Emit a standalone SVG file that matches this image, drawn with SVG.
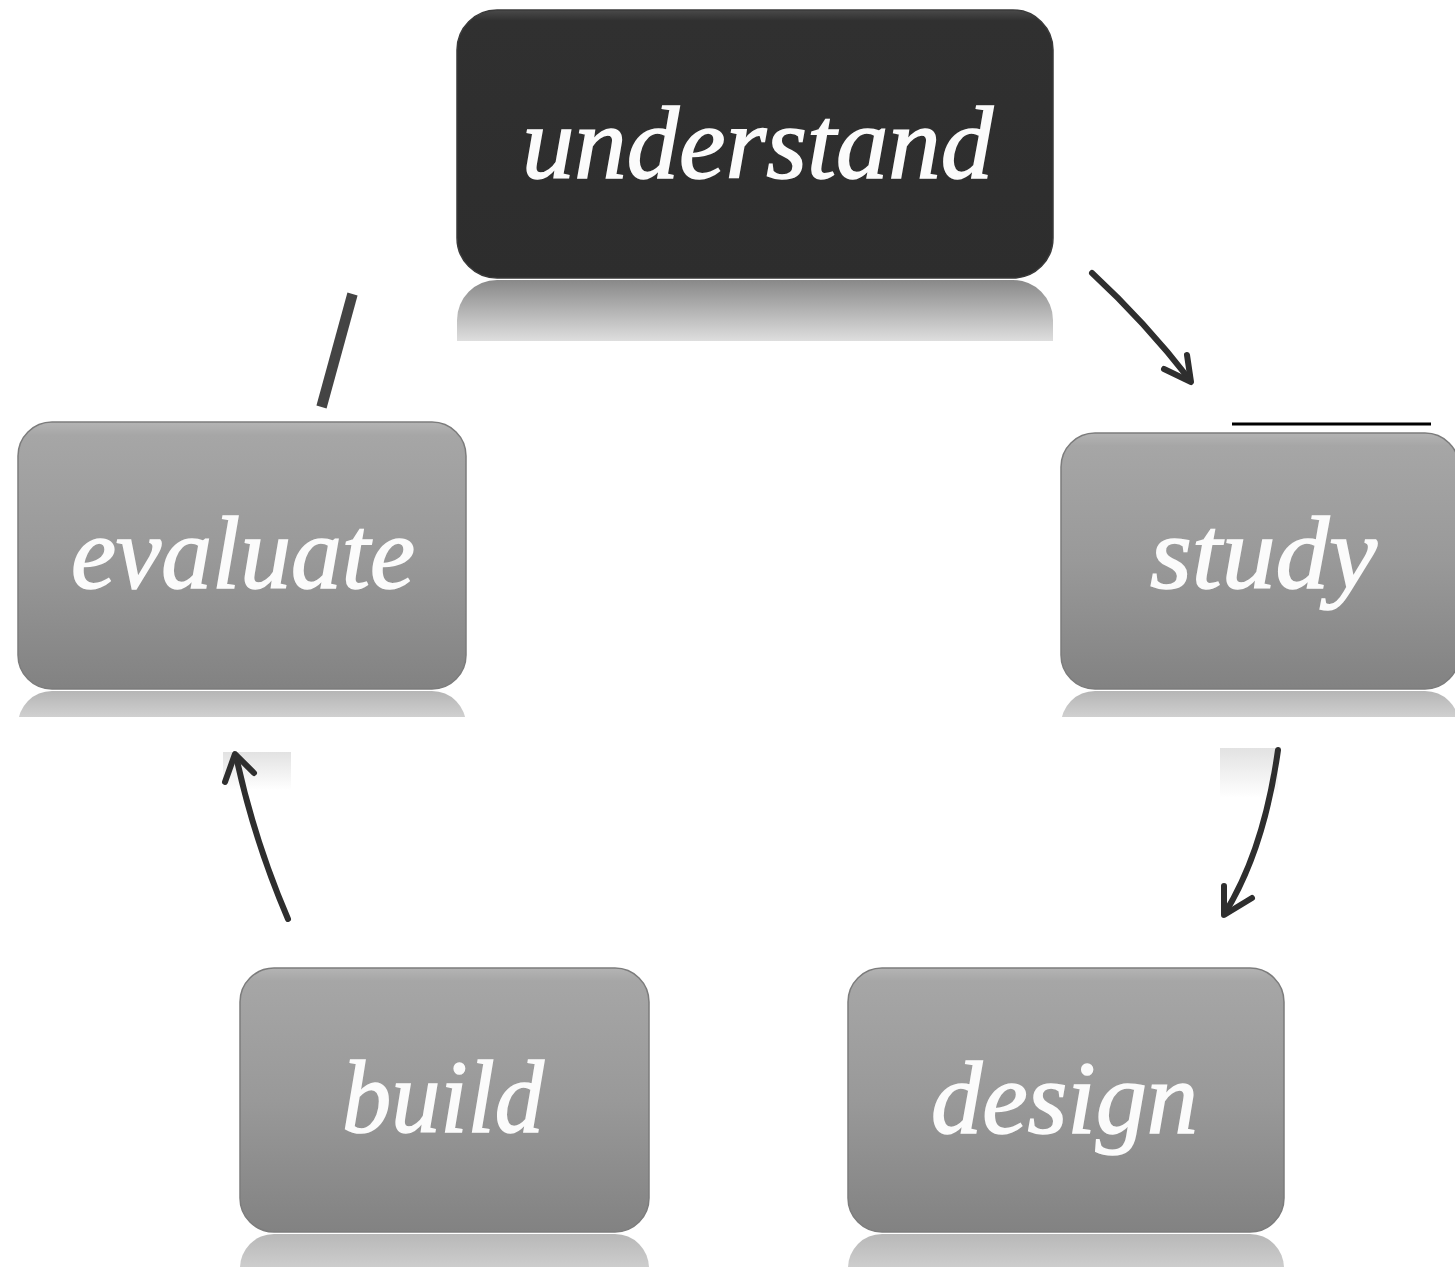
<svg xmlns="http://www.w3.org/2000/svg" width="1455" height="1267" viewBox="0 0 1455 1267">
<style>
.lbl{font-family:"Liberation Serif","DejaVu Serif",serif;font-style:italic;font-size:104px;fill:#fbfbfb;stroke:#fbfbfb;stroke-width:1.6;}
.conn{fill:none;stroke:#2e2e2e;stroke-width:6;stroke-linecap:round;stroke-linejoin:round;}
.gbox{fill:url(#gGray);stroke:#7c7c7c;stroke-width:1.5;}
</style>
<defs>
<linearGradient id="gGray" x1="0" y1="0" x2="0" y2="1">
<stop offset="0" stop-color="#b4b4b4"/>
<stop offset="0.05" stop-color="#a6a6a6"/>
<stop offset="0.5" stop-color="#999"/>
<stop offset="1" stop-color="#828282"/>
</linearGradient>
<linearGradient id="gDark" x1="0" y1="0" x2="0" y2="1">
<stop offset="0" stop-color="#4a4a4a"/>
<stop offset="0.04" stop-color="#303030"/>
<stop offset="1" stop-color="#2d2d2d"/>
</linearGradient>
<linearGradient id="rTop" gradientUnits="userSpaceOnUse" x1="0" y1="279" x2="0" y2="341">
<stop offset="0" stop-color="#878787"/>
<stop offset="1" stop-color="#dedede"/>
</linearGradient>
<linearGradient id="rMid" gradientUnits="userSpaceOnUse" x1="0" y1="690" x2="0" y2="717">
<stop offset="0" stop-color="#b4b4b4"/>
<stop offset="1" stop-color="#d0d0d0"/>
</linearGradient>
<linearGradient id="rBot" gradientUnits="userSpaceOnUse" x1="0" y1="1233" x2="0" y2="1267">
<stop offset="0" stop-color="#b7b7b7"/>
<stop offset="1" stop-color="#cdcdcd"/>
</linearGradient>
<linearGradient id="patch" x1="0" y1="0" x2="0" y2="1">
<stop offset="0" stop-color="#e2e2e2"/>
<stop offset="1" stop-color="#ffffff"/>
</linearGradient>
<clipPath id="cTop"><rect x="440" y="280" width="640" height="61"/></clipPath>
<clipPath id="cMid"><rect x="0" y="691" width="1455" height="26"/></clipPath>
<clipPath id="cBot"><rect x="0" y="1234" width="1455" height="33"/></clipPath>
</defs>
<rect width="1455" height="1267" fill="#fff"/>

<g id="patches">
<rect x="1220" y="748" width="58" height="50" fill="url(#patch)"/>
<rect x="223" y="752" width="68" height="38" fill="url(#patch)"/>
</g>

<g id="understand">
<rect x="457" y="10" width="596" height="268" rx="40" fill="url(#gDark)" stroke="#3a3a3a" stroke-width="1.5"/>
<rect x="457" y="280" width="596" height="268" rx="40" fill="url(#rTop)" clip-path="url(#cTop)"/>
<text class="lbl" x="522" y="178" textLength="471" lengthAdjust="spacingAndGlyphs">understand</text>
</g>

<g id="evaluate">
<rect class="gbox" x="18" y="422" width="448" height="267" rx="34"/>
<rect x="18" y="691" width="448" height="267" rx="34" fill="url(#rMid)" clip-path="url(#cMid)"/>
<text class="lbl" x="71" y="588" textLength="344" lengthAdjust="spacingAndGlyphs">evaluate</text>
</g>

<g id="study">
<rect class="gbox" x="1061" y="433" width="398" height="256" rx="34"/>
<rect x="1061" y="691" width="398" height="256" rx="34" fill="url(#rMid)" clip-path="url(#cMid)"/>
<text class="lbl" x="1150" y="588" textLength="227" lengthAdjust="spacingAndGlyphs">study</text>
</g>

<g id="build">
<rect class="gbox" x="240" y="968" width="409" height="264" rx="34"/>
<rect x="240" y="1234" width="409" height="264" rx="34" fill="url(#rBot)" clip-path="url(#cBot)"/>
<text class="lbl" x="342" y="1132" textLength="202" lengthAdjust="spacingAndGlyphs">build</text>
</g>

<g id="design">
<rect class="gbox" x="848" y="968" width="436" height="264" rx="34"/>
<rect x="848" y="1234" width="436" height="264" rx="34" fill="url(#rBot)" clip-path="url(#cBot)"/>
<text class="lbl" x="931" y="1133" textLength="267" lengthAdjust="spacingAndGlyphs">design</text>
</g>

<g id="connectors">
<path class="conn" d="M1092,273 Q1145,322 1190,380"/>
<path class="conn" d="M1164,369 L1191,382 L1187,355"/>
<path class="conn" d="M1278,750 Q1264,850 1225,913"/>
<path class="conn" d="M1224,886 L1224,915 L1252,898"/>
<path class="conn" d="M288,919 Q254,840 236,756"/>
<path class="conn" d="M225,782 L235,754 L254,773"/>
<line x1="352.5" y1="294" x2="321.5" y2="407" stroke="#444" stroke-width="10.5"/>
<line x1="1232" y1="424" x2="1431" y2="424" stroke="#000" stroke-width="3"/>
</g>
</svg>
